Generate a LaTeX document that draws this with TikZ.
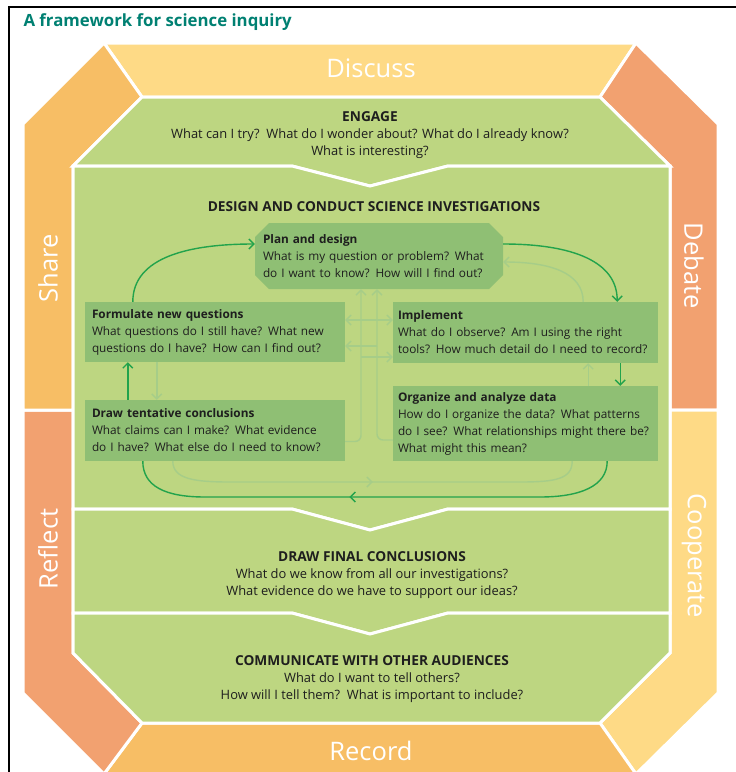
\documentclass[tikz,border=0pt]{standalone}
\usepackage{fontspec}
\setmainfont{Open Sans}
\usetikzlibrary{arrows.meta,shapes.misc,decorations.markings}

\definecolor{bandyellow}{RGB}{254,218,134}
\definecolor{bandorange}{RGB}{247,190,101}
\definecolor{bandsalmon}{RGB}{242,161,112}
\definecolor{fieldgreen}{RGB}{189,214,129}
\definecolor{boxgreen}{RGB}{143,191,116}
\definecolor{cyclegreen}{RGB}{34,163,76}
\definecolor{faintgreen}{RGB}{166,205,136}
\definecolor{titleteal}{RGB}{0,128,114}
\definecolor{inktext}{RGB}{30,30,30}

\newcommand{\stagehead}[1]{{\fontsize{13.7}{17}\selectfont\bfseries #1}}

\tikzset{
  barb/.tip={Straight Barb[length=5pt,width=10pt]},
  band/.style={draw=white, line width=3pt},
  bandlabel/.style={text=white, font=\fontsize{25.5}{26}\selectfont},
  stage/.style={fill=fieldgreen, draw=white, line width=3pt},
  stagetext/.style={text=inktext, align=center, font=\fontsize{12.9}{17}\selectfont},
  stepbox/.style={fill=boxgreen, text=inktext, align=left, inner xsep=5pt, inner ysep=0pt, font=\fontsize{11.8}{17}\selectfont},
  cyclearrow/.style={draw=cyclegreen, line width=1.4pt, -barb},
  backarrow/.style={draw=faintgreen, line width=1.4pt, -barb},
  midbarb/.style={-, postaction={decorate}, decoration={markings, mark=at position #1 with {\arrow{barb}}}},
}

\begin{document}
\begin{tikzpicture}[x=1pt,y=-1pt]
\useasboundingbox (0,0) rectangle (736,772);

% frame and title
\draw[line width=2pt] (9,772) -- (9,7) -- (736,7);
\node[anchor=west, text=titleteal, font=\bfseries\fontsize{16.8}{19}\selectfont] (title) at (20,22) {A framework for science inquiry};

% outer bands
\draw[band, fill=bandyellow] (104,43) -- (636,43) -- (600,97) -- (142,97) -- cycle;
\draw[band, fill=bandsalmon] (636,43) -- (718,124) -- (718,410) -- (670,410) -- (670,166) -- (600,97) -- cycle;
\draw[band, fill=bandyellow] (718,410) -- (718,693) -- (636,774) -- (600,723) -- (670,653) -- (670,410) -- cycle;
\draw[band, fill=bandorange] (600,723) -- (636,774) -- (104,774) -- (142,723) -- cycle;
\draw[band, fill=bandsalmon] (23,410) -- (73,410) -- (73,653) -- (142,723) -- (104,774) -- (23,693) -- cycle;
\draw[band, fill=bandorange] (23,124) -- (104,43) -- (142,97) -- (73,166) -- (73,410) -- (23,410) -- cycle;

\node[bandlabel] (discuss) at (371,68) {Discuss};
\node[bandlabel, rotate=-90] (debate) at (694,266) {Debate};
\node[bandlabel, rotate=-90] (cooperate) at (694,556) {Cooperate};
\node[bandlabel] (record) at (371,751) {Record};
\node[bandlabel, rotate=90] (reflect) at (48,549) {Reflect};
\node[bandlabel, rotate=90] (share) at (48,268) {Share};

% inner stages
\draw[stage] (142,97) -- (600,97) -- (670,166) -- (448,166) -- (370,186) -- (292,166) -- (73,166) -- cycle;
\draw[stage] (73,166) -- (292,166) -- (370,186) -- (448,166) -- (670,166) -- (670,509) -- (448,509) -- (370,530) -- (292,509) -- (73,509) -- cycle;
\draw[stage] (73,509) -- (292,509) -- (370,530) -- (448,509) -- (670,509) -- (670,613) -- (448,613) -- (370,634) -- (292,613) -- (73,613) -- cycle;
\draw[stage] (73,613) -- (292,613) -- (370,634) -- (448,613) -- (670,613) -- (670,653) -- (600,723) -- (142,723) -- (73,653) -- cycle;

\node[stagetext] (engage) at (370,135.5) {\stagehead{ENGAGE}\\What can I try?\ \ What do I wonder about? What do I already know?\\What is interesting?};
\node[stagetext] (design) at (374,207) {\stagehead{DESIGN AND CONDUCT SCIENCE INVESTIGATIONS}};
\node[stagetext] (final) at (372,575) {\stagehead{DRAW FINAL CONCLUSIONS}\\What do we know from all our investigations?\\What evidence do we have to support our ideas?};
\node[stagetext] (communicate) at (372,679) {\stagehead{COMMUNICATE WITH OTHER AUDIENCES}\\What do I want to tell others?\\How will I tell them?\ \ What is important to include?};

% investigation steps
\node[stepbox, chamfered rectangle, chamfered rectangle xsep=7pt, chamfered rectangle ysep=7pt, inner xsep=1pt, text width=232pt, minimum height=66pt] (plan) at (379,256)
  {\textbf{Plan and design}\\What is my question or problem? What\\do I want to know? How will I find out?};
\node[stepbox, inner xsep=7pt, text width=246pt, minimum height=60pt] (formulate) at (215,332)
  {\textbf{Formulate new questions}\\What questions do I still have? What new\\questions do I have? How can I find out?};
\node[stepbox, inner xsep=7pt, text width=246pt, minimum height=61pt] (tentative) at (215,430.5)
  {\textbf{Draw tentative conclusions}\\What claims can I make? What evidence\\do I have? What else do I need to know?};
\node[stepbox, text width=255pt, minimum height=61pt] (implement) at (525.5,332.5)
  {\textbf{Implement}\\What do I observe? Am I using the right\\tools? How much detail do I need to record?};
\node[stepbox, text width=255pt, minimum height=75pt] (organize) at (525.5,423.5)
  {\textbf{Organize and analyze data}\\How do I organize the data? What patterns\\do I see? What relationships might there be?\\What might this mean?};

% helper points
\coordinate (trunkL) at ([xshift=-18pt]plan.south);
\coordinate (trunkR) at ([xshift=-2pt]plan.south);
\coordinate (loopinR) at (540,497);
\coordinate (loopinL) at (205,497);
\coordinate (loopoutL) at (230,482);
\coordinate (loopoutR) at (520,482);
\path ([yshift=-14pt]formulate.east) coordinate (askin);
\path ([yshift=-24.5pt]implement.west) coordinate (doin);

% faint links
\draw[backarrow] ([xshift=72pt]formulate.south west) -- ([xshift=72pt]tentative.north west);
\draw[backarrow] ([xshift=-70pt]organize.north east) -- ([xshift=-70pt]implement.south east);
\draw[backarrow] ([xshift=-75pt]implement.north east) .. controls +(0,-30) and +(45,0) .. ([yshift=-6pt]plan.east);
\draw[backarrow, midbarb=0.5] ([xshift=88pt]tentative.south west) .. controls +(0,18) and +(-35,0) .. (loopoutL)
  -- (loopoutR) .. controls +(35,0) and +(0,18) .. ([xshift=-86pt]organize.south east);
\draw[backarrow, rounded corners=6pt] ([yshift=-11pt]tentative.east) -| (trunkL);
\draw[backarrow, rounded corners=6pt] ([yshift=-16.5pt]organize.west) -| (trunkR);
\draw[backarrow, barb-barb] ([yshift=12pt]formulate.east) -- ([yshift=12pt]formulate.east -| implement.west);
\draw[backarrow] (askin -| trunkR) -- (askin);
\draw[backarrow] (doin -| trunkL) -- (doin);

% main cycle
\draw[cyclearrow] ([xshift=48pt]formulate.north west) .. controls +(0,-45) and +(-65,0) .. ([yshift=12pt]plan.west);
\draw[cyclearrow] ([yshift=12pt]plan.east) .. controls +(70,0) and +(0,-40) .. ([xshift=-41pt]implement.north east);
\draw[cyclearrow] ([xshift=-38pt]implement.south east) -- ([xshift=-38pt]organize.north east);
\draw[cyclearrow, midbarb=0.55] ([xshift=-51pt]organize.south east) .. controls +(0,25) and +(40,0) .. (loopinR)
  -- (loopinL) .. controls +(-40,0) and +(0,25) .. ([xshift=58pt]tentative.south west);
\draw[cyclearrow] ([xshift=43pt]tentative.north west) -- ([xshift=43pt]formulate.south west);

\end{tikzpicture}
\end{document}
